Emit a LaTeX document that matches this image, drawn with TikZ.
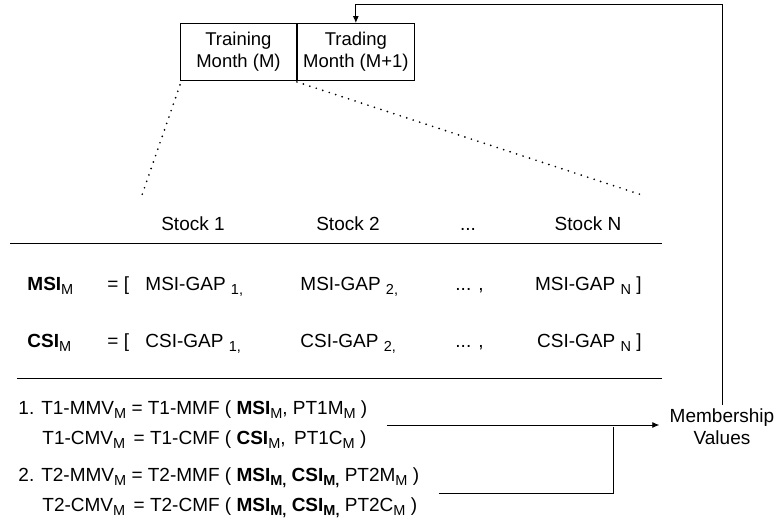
\documentclass[tikz,border=0pt]{standalone}
\usepackage{fontspec}
\setmainfont{Liberation Sans}
\usetikzlibrary{arrows.meta,positioning}
\newcommand{\lo}[1]{\raisebox{-4pt}{\fontsize{14.5}{14.5}\selectfont #1}}

\begin{document}
\begin{tikzpicture}[x=1pt,y=-1pt,font=\fontsize{19}{22}\selectfont,line width=0.9pt]
\tikzstyle{month}=[draw,align=center,inner sep=0pt,minimum height=57pt,anchor=north west,font=\fontsize{18.5}{22}\selectfont]
\tikzstyle{cell}=[inner sep=0pt,anchor=base west]
\tikzstyle{head}=[inner sep=0pt,anchor=base]
\tikzstyle{eqs}=[align=left,inner xsep=19pt,inner ysep=0pt,anchor=west,font=\fontsize{19}{30}\selectfont]
\tikzstyle{dots}=[line width=1.9pt,line cap=round,dash pattern=on 0pt off 6.8pt]
\useasboundingbox (0,0) rectangle (779,523);

\node[month,minimum width=116pt] (train) at (180,23) {Training\\Month (M)};
\node[month,minimum width=117pt] (trade) at (train.north east) {Trading\\Month (M+1)};
\coordinate (zl) at (142,195);
\coordinate (zr) at (642,195);
\draw[dots] ([yshift=-4pt]train.south west) -- (zl);
\draw[dots] ([yshift=-1pt]train.south east) -- (zr);

\node[head] (s1) at (193,230) {Stock 1};
\node[head] (s2) at (348,230) {Stock 2};
\node[head] (sd) at (468,230) {...};
\node[head] (sn) at (588,230) {Stock N};
\draw (10,243) -- (662,243);

\node[cell] (msi) at (27,290) {\textbf{MSI}\lo{M}};
\node[cell] (msieq) at (107,290) {= [};
\node[cell] (msi1) at (145,290) {MSI-GAP \lo{1,}};
\node[cell] (msi2) at (300,290) {MSI-GAP \lo{2,}};
\node[cell] (msid) at (455,290) {... ,};
\node[inner sep=0pt,anchor=base east] (msin) at (642,290) {MSI-GAP \lo{N} ]};

\node[cell] (csi) at (27,347) {\textbf{CSI}\lo{M}};
\node[cell] (csieq) at (107,347) {= [};
\node[cell] (csi1) at (145,347) {CSI-GAP \lo{1,}};
\node[cell] (csi2) at (300,347) {CSI-GAP \lo{2,}};
\node[cell] (csid) at (455,347) {... ,};
\node[inner sep=0pt,anchor=base east] (csin) at (642,347) {CSI-GAP \lo{N} ]};
\draw (17,378) -- (662,378);

\node[eqs] (t1) at (-1,425) {1. T1-MMV\lo{M} = T1-MMF ( \textbf{MSI}\lo{M}, PT1M\lo{M} )\\
\hspace*{24pt}T1-CMV\lo{M} \,= T1-CMF ( \textbf{CSI}\lo{M}, \,PT1C\lo{M} )};
\node[eqs] (t2) at (-1,493) {2. T2-MMV\lo{M} = T2-MMF ( \textbf{MSI}\lo{\textbf{M,}} \textbf{CSI}\lo{\textbf{M,}} PT2M\lo{M} )\\
\hspace*{24pt}T2-CMV\lo{M} \,= T2-CMF ( \textbf{MSI}\lo{\textbf{M,}} \textbf{CSI}\lo{\textbf{M,}} PT2C\lo{M} )};

\node[align=center,inner xsep=10pt,inner ysep=4pt] (mv) at (722,427) {Membership\\Values};

\draw[-{Latex[length=7pt,width=6pt]}] (t1.east) -- (t1.east -| mv.west);
\draw (t2.east) -| (613,427);
\draw[-{Latex[length=7pt,width=6pt]}] (mv.north) |- ([yshift=19pt]trade.north) -- (trade.north);
\end{tikzpicture}
\end{document}
